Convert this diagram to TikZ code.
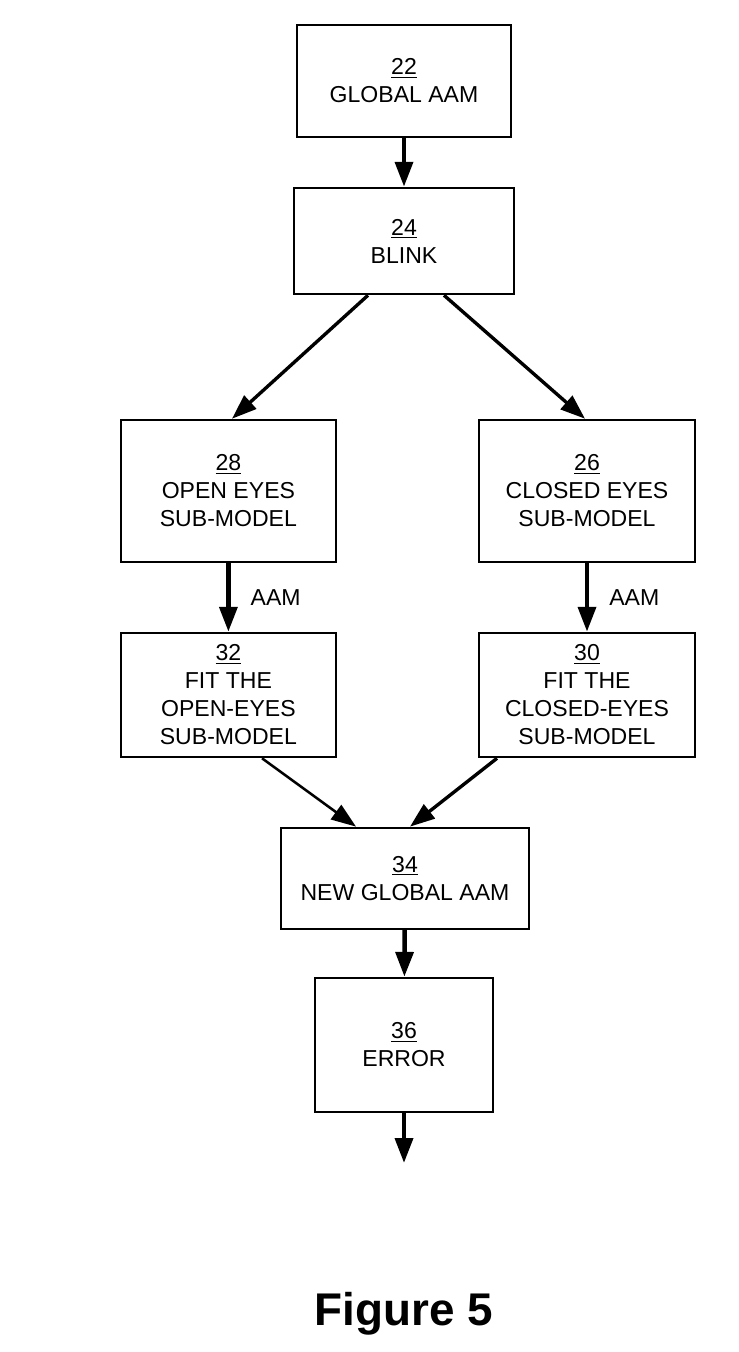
\documentclass[tikz,border=0pt]{standalone}
\usepackage{fontspec}
\setmainfont{Liberation Sans}
\usetikzlibrary{arrows.meta, positioning, calc}
\tikzset{
  >={Triangle[length=0.62cm, width=0.44cm]},
  pbox/.style={draw, line width=1.8pt, align=center, inner sep=2pt,
    font=\fontsize{16.4}{19.9}\selectfont},
  flow/.style={->, line width=3.2pt},
  dflow/.style={->, line width=2.4pt},
  elabel/.style={font=\fontsize{16.4}{19.9}\selectfont, inner sep=0pt},
}

\begin{document}
\begin{tikzpicture}
  \useasboundingbox (0,0) rectangle (18.475,-33.8);

  % ---- Top -----------------------------------------------------------------
  \node[pbox, minimum width=5.35cm, minimum height=2.8cm]  (glob)  at (10.1,-2.025) {\underline{22}\\GLOBAL AAM};
  \node[pbox, minimum width=5.5cm,  minimum height=2.65cm] (blink) at (10.1,-6.025) {\underline{24}\\BLINK};

  % ---- Sub-models ------------------------------------------------------------
  \node[pbox, minimum width=5.375cm, minimum height=3.55cm] (open)   at (5.71,-12.275)  {\underline{28}\\OPEN EYES\\SUB-MODEL};
  \node[pbox, minimum width=5.4cm,   minimum height=3.55cm] (closed) at (14.675,-12.275) {\underline{26}\\CLOSED EYES\\SUB-MODEL};
  \node[pbox, minimum width=5.375cm, minimum height=3.1cm]  (fitopen)   at (5.71,-17.375)  {\underline{32}\\FIT THE\\OPEN-EYES\\SUB-MODEL};
  \node[pbox, minimum width=5.4cm,   minimum height=3.1cm]  (fitclosed) at (14.675,-17.375) {\underline{30}\\FIT THE\\CLOSED-EYES\\SUB-MODEL};

  % ---- Bottom ----------------------------------------------------------------
  \node[pbox, minimum width=6.2cm,  minimum height=2.525cm] (newglob) at (10.125,-21.96) {\underline{34}\\NEW GLOBAL AAM};
  \node[pbox, minimum width=4.45cm, minimum height=3.35cm]  (err)     at (10.1,-26.125)  {\underline{36}\\ERROR};
  \coordinate (out) at (10.1,-29.075);

  \node[font=\bfseries\fontsize{32.6}{36}\selectfont] (fig) at (10.1,-32.85) {Figure 5};

  % ---- Connectors ------------------------------------------------------------
  \draw[flow] (glob) -- (blink);
  \draw[dflow] ($(blink.south)+(-0.9,0)$) -- ($(open.north)+(0.09,0)$);
  \draw[dflow] ($(blink.south)+(1.0,0)$) -- ($(closed.north)+(-0.05,0)$);
  \draw[flow] (open) -- (fitopen) node[elabel, midway, right=0.5cm] {AAM};
  \draw[flow] (closed) -- (fitclosed) node[elabel, midway, right=0.5cm] {AAM};
  \draw[->, line width=1.8pt] ($(fitopen.south)+(0.84,0)$) -- ($(newglob.north)+(-1.225,0)$);
  \draw[dflow] ($(fitclosed.south)+(-2.25,0)$) -- ($(newglob.north)+(0.125,0)$);
  \draw[flow] (newglob) -- (err);
  \draw[flow] (err) -- (out);

\end{tikzpicture}
\end{document}
